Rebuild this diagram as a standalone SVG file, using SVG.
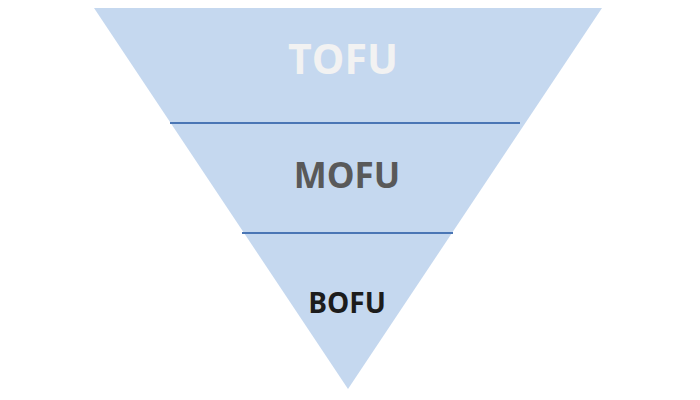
<svg xmlns="http://www.w3.org/2000/svg" width="700" height="400" viewBox="0 0 700 400">
<style>
.lbl{font-family:"Open Sans","Liberation Sans",sans-serif;font-weight:bold;text-anchor:middle}
.div{stroke:#4A76B5;stroke-width:2}
</style>
<rect width="700" height="400" fill="#FFFFFF"/>
<g id="funnel">
<polygon points="94,8 602,8 348,389" fill="#C5D8EF"/>
</g>
<g id="connectors">
<line class="div" x1="170" y1="123" x2="520" y2="123"/>
<line class="div" x1="242" y1="233" x2="453" y2="233"/>
</g>
<g id="tofu"><text class="lbl" x="343" y="74" font-size="41" fill="#F2F2F2">TOFU</text></g>
<g id="mofu"><text class="lbl" x="347" y="188" font-size="35" fill="#595959">MOFU</text></g>
<g id="bofu"><text class="lbl" x="347" y="313" font-size="28" fill="#1C1C1C">BOFU</text></g>
</svg>
